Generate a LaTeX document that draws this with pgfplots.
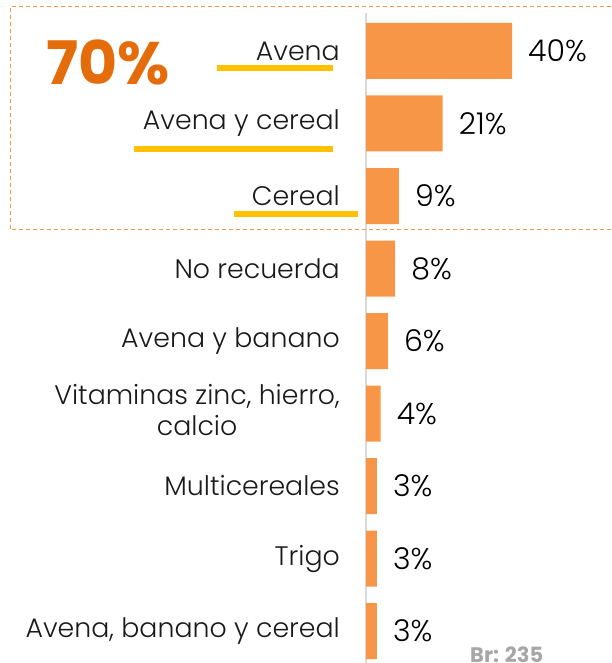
\documentclass[border=0pt]{standalone}
\usepackage{pgfplots}
\pgfplotsset{compat=1.18}
\usepackage{fontspec}
\setmainfont{Poppins}[UprightFont={* Light}, BoldFont={* Bold}]
\definecolor{barorange}{HTML}{F79646}
\definecolor{darkorange}{HTML}{E46C0A}
\definecolor{ulyellow}{HTML}{FFC000}
\definecolor{axgray}{HTML}{D9D9D9}
\definecolor{brgray}{HTML}{A6A6A6}
\definecolor{txt}{HTML}{1A1A1A}
\begin{document}
\begin{tikzpicture}[x=1pt,y=1pt]
\useasboundingbox (0,0) rectangle (611,663);
\begin{axis}[
  at={(366pt,0pt)}, anchor=south west,
  scale only axis, width=245pt, height=650pt,
  xmin=0, xmax=67.12, ymin=-0.524, ymax=8.441,
  y dir=reverse,
  xbar, bar width=56pt,
  axis x line=none, axis y line*=left,
  axis line style={draw=axgray, line width=1.5pt, -},
  ytick={0,1,2,3,4,5,6,7,8},
  yticklabels={Avena, Avena y cereal, Cereal, No recuerda, Avena y banano,
    {\begin{tabular}{@{}c@{}}Vitaminas zinc, hierro,\\[-1pt]calcio\end{tabular}},
    Multicereales, Trigo, {Avena, banano y cereal}},
  major tick length=0pt,
  yticklabel style={anchor=east, inner sep=0pt, xshift=-26pt, font=\fontsize{26.8}{32}\selectfont, text=txt},
  clip=false,
  point meta=explicit symbolic,
  nodes near coords,
  nodes near coords style={anchor=west, inner sep=0pt, xshift=16pt, font=\fontsize{30}{32}\selectfont, text=black},
]
\addplot[fill=barorange, draw=none] table[meta=lab] {
x y lab
40 0 40\%
21 1 21\%
9 2 9\%
8 3 8\%
6 4 6\%
4 5 4\%
3 6 3\%
3 7 3\%
3 8 3\%
};
\end{axis}
% dashed highlight box
\draw[barorange, line width=1pt, dash pattern=on 4pt off 3pt] (611,656) -- (10,656) -- (10,433) -- (611,433);
% underlines
\draw[ulyellow, line width=6pt] (217,594.5) -- (333,594.5);
\draw[ulyellow, line width=6pt] (134,513.5) -- (333,513.5);
\draw[ulyellow, line width=6pt] (234,448.5) -- (358,448.5);
\node[text=darkorange, font=\fontsize{60}{60}\selectfont\bfseries] at (108,601) {70\%};
\node[anchor=base west, inner sep=0pt, text=brgray, font=\fontsize{21}{21}\selectfont\bfseries] at (470,1) {Br: 235};
\end{tikzpicture}
\end{document}
